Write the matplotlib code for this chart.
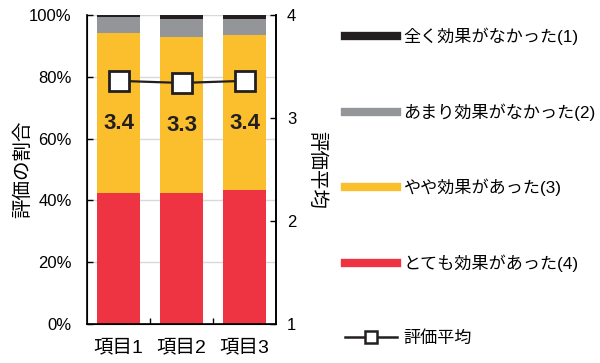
import numpy as np
import matplotlib
matplotlib.use("Agg")
import matplotlib.pyplot as plt
from matplotlib.lines import Line2D

plt.rcParams["font.family"] = ["Liberation Sans", "Noto Sans CJK JP"]

# 評価の割合 (%) と評価平均
items = ["項目1", "項目2", "項目3"]
r4 = [42.5, 42.5, 43.5]   # とても効果があった
r3 = [51.7, 50.3, 50.1]   # やや効果があった
r2 = [5.1, 5.9, 5.1]      # あまり効果がなかった
r1 = [0.7, 1.3, 1.3]      # 全く効果がなかった
avg = [3.36, 3.34, 3.36]

labels = ["とても効果があった(4)", "やや効果があった(3)",
          "あまり効果がなかった(2)", "全く効果がなかった(1)"]
colors = ["#ee3342", "#fbbf2e", "#939598", "#231f20"]

fig = plt.figure(figsize=(6, 3.63), dpi=100)
ax = fig.add_axes([0.145, 0.107, 0.315, 0.852])
x = np.arange(len(items))

bottom = np.zeros(len(items))
for vals, c in zip([r4, r3, r2, r1], colors):
    ax.bar(x, vals, 0.667, bottom=bottom, color=c, zorder=2)
    bottom += np.array(vals)

ax.set_xlim(-0.5, 2.5)
ax.set_ylim(0, 100)
ax.set_yticks(range(0, 101, 20))
ax.set_yticklabels([f"{v}%" for v in range(0, 101, 20)], fontsize=12)
ax.set_xticks(x)
ax.set_xticklabels(items, fontsize=14)
ax.set_xticks([0.5, 1.5], minor=True)
ax.tick_params(axis="x", which="major", length=0, pad=11)
ax.tick_params(axis="x", which="minor", direction="in", length=4, width=1)
ax.tick_params(axis="y", direction="in", length=4, width=1, pad=11)
ax.yaxis.grid(True, color="#d9d9d9", lw=1, zorder=0)
ax.set_axisbelow(True)
ax.spines["top"].set_visible(False)
for s in ["left", "right", "bottom"]:
    ax.spines[s].set_linewidth(1.2)
ax.set_ylabel("評価の割合", fontsize=14, va="center")
ax.yaxis.set_label_coords(-0.339, 0.5)

ax2 = ax.twinx()
ax2.set_ylim(1, 4)
ax2.set_yticks([1, 2, 3, 4])
ax2.tick_params(axis="y", direction="in", length=4, width=1, labelsize=12, pad=8)
ax2.spines["top"].set_visible(False)
ax2.spines["right"].set_linewidth(1.2)
ax2.plot(x, avg, color="#231f20", lw=1.6, marker="s", ms=14.5,
         mfc="white", mec="#231f20", mew=2, zorder=5)
for xi, a in zip(x, avg):
    ax2.text(xi, a - 0.41, f"{a:.1f}", ha="center", va="center",
             fontsize=16, fontweight="bold", color="#231f20")
ax2.set_ylabel("評価平均", fontsize=14, rotation=-90, va="center")
ax2.yaxis.set_label_coords(1.217, 0.5)

handles = [Line2D([], [], color=c, lw=6) for c in colors[::-1]]
handles.append(Line2D([], [], color="#231f20", lw=1.8, marker="s", ms=9,
                      mfc="white", mec="#231f20", mew=1.8))
fig.legend(handles, labels[::-1] + ["評価平均"], loc="upper left",
           bbox_to_anchor=(0.55, 0.966), frameon=False, fontsize=12.3,
           handlelength=3.05, handletextpad=0.35, labelspacing=3.4,
           borderpad=0.4)

fig.savefig("out.png", dpi=100)
